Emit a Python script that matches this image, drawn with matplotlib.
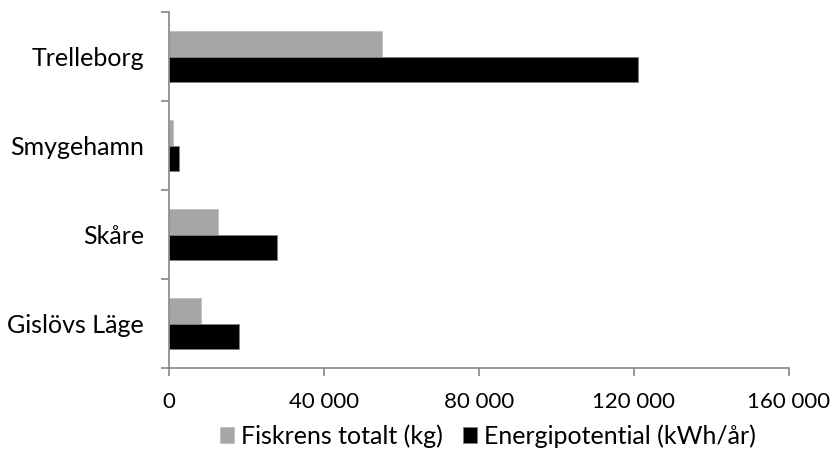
import matplotlib
matplotlib.use("Agg")
import matplotlib.pyplot as plt
import numpy as np
from matplotlib.ticker import FuncFormatter

# data, bottom to top
hamnar = ["Gislövs Läge", "Skåre", "Smygehamn", "Trelleborg"]
fiskrens = [8300, 12700, 1100, 55000]
energi = [18000, 27900, 2500, 121000]
xticks = [0, 40000, 80000, 120000, 160000]

plt.rcParams["font.family"] = ["Lato", "DejaVu Sans"]
axcol = "#868686"

fig = plt.figure(figsize=(8.36, 4.5), dpi=100)
ax = fig.add_axes([169 / 836, 1 - 368 / 450, 620 / 836, 356 / 450])

y = np.arange(len(hamnar))
h = 0.285
ax.barh(y + h / 2, fiskrens, height=h, color="#A6A6A6", edgecolor="#BFBFBF",
        linewidth=0.6, label="Fiskrens totalt (kg)")
ax.barh(y - h / 2, energi, height=h, color="black", edgecolor="#808080",
        linewidth=0.6, label="Energipotential (kWh/år)")

ax.set_xlim(0, 160000)
ax.set_ylim(-0.5, len(hamnar) - 0.5)
ax.set_xticks(xticks)
ax.xaxis.set_major_formatter(FuncFormatter(lambda v, p: f"{int(v):,}".replace(",", " ")))
ax.set_yticks(y)
ax.set_yticklabels(hamnar)
ax.set_yticks(np.arange(-0.5, len(hamnar)), minor=True)

ax.tick_params(axis="y", which="major", length=0, pad=18, labelsize=18)
ax.tick_params(axis="y", which="minor", length=6, width=1.2, color=axcol)
ax.tick_params(axis="x", length=6, width=1.2, color=axcol, pad=11, labelsize=16)

for s in ["top", "right"]:
    ax.spines[s].set_visible(False)
for s in ["left", "bottom"]:
    ax.spines[s].set_color(axcol)
    ax.spines[s].set_linewidth(1.2)

ax.legend(loc="center", bbox_to_anchor=(488 / 836, 1 - 436 / 450),
          bbox_transform=fig.transFigure, ncol=2, frameon=False,
          fontsize=18, handlelength=0.56, handleheight=0.56,
          handletextpad=0.28, columnspacing=0.8, borderpad=0, borderaxespad=0)

fig.savefig("out.png", dpi=100)
